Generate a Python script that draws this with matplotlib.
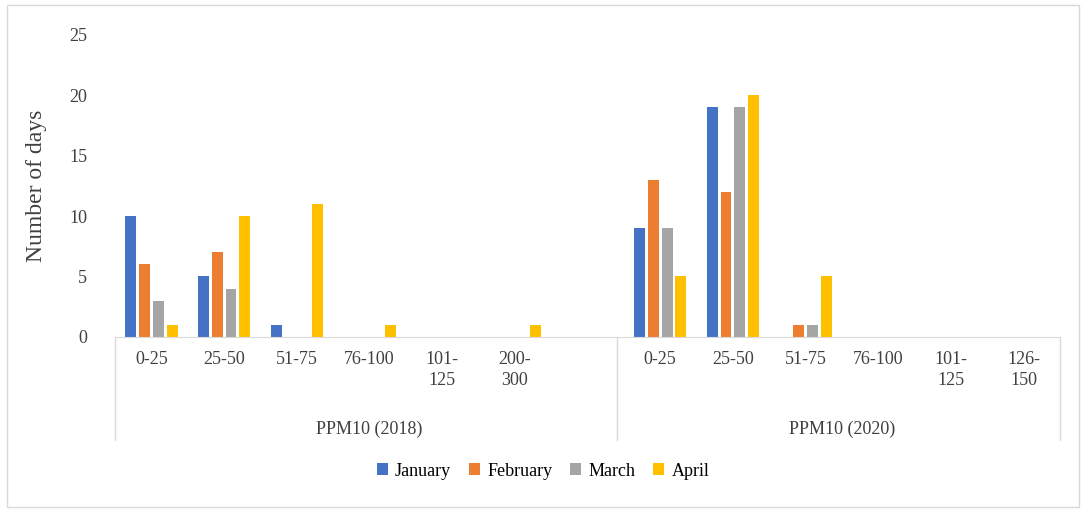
import numpy as np
import matplotlib.pyplot as plt

plt.rcParams['font.family'] = 'Liberation Serif'

cats_2018 = ['0-25', '25-50', '51-75', '76-100', '101-\n125', '200-\n300', '']
cats_2020 = ['0-25', '25-50', '51-75', '76-100', '101-\n125', '126-\n150']
groups = ['PPM10 (2018)', 'PPM10 (2020)']
months = ['January', 'February', 'March', 'April']
colors = ['#4472C4', '#ED7D31', '#A5A5A5', '#FFC000']

jan = [10, 5, 1, 0, 0, 0, 0] + [9, 19, 0, 0, 0, 0]
feb = [6, 7, 0, 0, 0, 0, 0] + [13, 12, 1, 0, 0, 0]
mar = [3, 4, 0, 0, 0, 0, 0] + [9, 19, 1, 0, 0, 0]
apr = [1, 10, 11, 1, 0, 1, 0] + [5, 20, 5, 0, 0, 0]
series = [jan, feb, mar, apr]

cats = cats_2018 + cats_2020
n = len(cats)
x = np.arange(n)

fig = plt.figure(figsize=(10.86, 5.12), dpi=100)
ax = fig.add_axes([0.106, 0.342, 0.87, 0.59])
for i, (vals, m, c) in enumerate(zip(series, months, colors)):
    ax.bar(x + (i - 1.5) * 0.19, vals, width=0.15, color=c, label=m)

ax.set_xlim(-0.5, n - 0.5)
ax.set_ylim(0, 25)
ax.set_yticks(range(0, 26, 5))
ax.tick_params(axis='y', length=0, labelsize=13, colors='#404040', pad=20)
ax.set_xticks([])
for s in ['top', 'right', 'left']:
    ax.spines[s].set_visible(False)
ax.spines['bottom'].set_color('#D9D9D9')
ax.set_ylabel('Number of days', fontsize=17, color='#404040', labelpad=16)

# category labels and group separators
for xi, lab in zip(x, cats):
    ax.text(xi, -1.2, lab, ha='center', va='top', fontsize=13, color='#404040',
            linespacing=1.3)
sep = [-0.5, len(cats_2018) - 0.6, n - 0.5]
for s in sep:
    ax.plot([s, s], [0, -8.5], color='#D9D9D9', lw=1, clip_on=False)
centers = [(len(cats_2018) - 1) / 2, len(cats_2018) + (len(cats_2020) - 1) / 2]
for cx, g in zip(centers, groups):
    ax.text(cx, -6.9, g, ha='center', va='top', fontsize=13, color='#404040')

fig.legend(loc='center', bbox_to_anchor=(0.5, 0.08), ncol=4, frameon=False,
           fontsize=13, handlelength=0.6, handleheight=0.6, columnspacing=1.0,
           handletextpad=0.4)
fig.patches.append(plt.Rectangle((0.006, 0.01), 0.988, 0.98, transform=fig.transFigure,
                                 fill=False, edgecolor='#D9D9D9', lw=1))
fig.savefig('out.png')
